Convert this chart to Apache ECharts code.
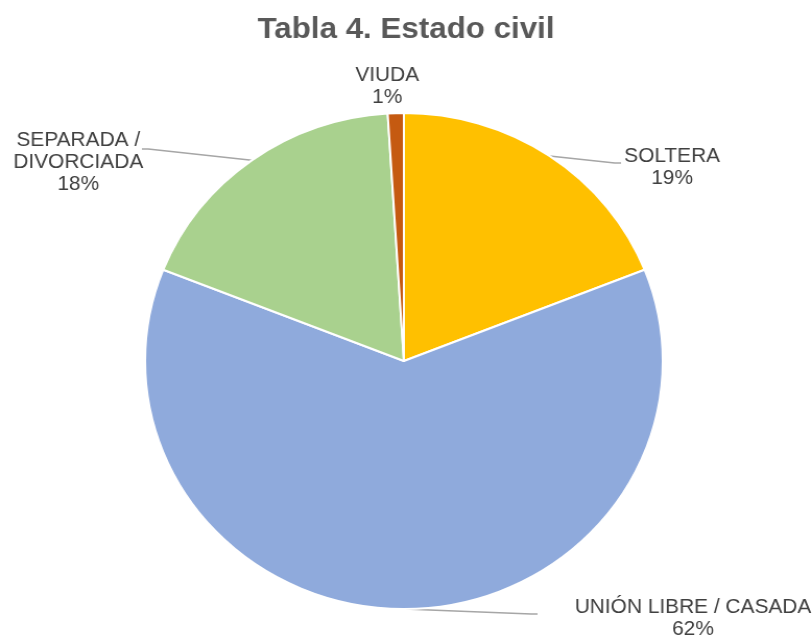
<!DOCTYPE html>
<html>
<head>
<meta charset="utf-8">
<title>Tabla 4. Estado civil</title>
<script src="https://cdn.jsdelivr.net/npm/echarts@6/dist/echarts.min.js"></script>
<style>
  html, body { margin: 0; padding: 0; background: #ffffff; overflow: hidden; }
  /* The chart is drawn a little narrower and widened back to 812px,
     which gives the slightly wide, oval look of the original figure. */
  #chart {
    width: 778px;
    height: 638px;
    transform: scaleX(1.0437);
    transform-origin: 0 0;
  }
</style>
</head>
<body>
<div id="chart"></div>
<script>
// Estado civil: categories and percentages
const categories = ['SOLTERA', 'UNIÓN LIBRE / CASADA', 'SEPARADA /\nDIVORCIADA', 'VIUDA'];
const values = [19, 62, 18, 1];
const colors = ['#FFC000', '#8FAADC', '#A9D18E', '#C55A11'];

// Where each label block sits (center) and where its leader line ends
const labelSpots = [
  { x: 644, y: 167, lineEnd: [595, 163], side: 'right' },
  { x: 664, y: 618, lineEnd: [515, 614], side: 'right' },
  { x: 75,  y: 162, lineEnd: [136, 149], side: 'left' },
  { x: 371, y: 86,  lineEnd: null,       side: 'top' }
];

const chart = echarts.init(document.getElementById('chart'), null, { renderer: 'canvas' });

chart.setOption({
  backgroundColor: '#ffffff',
  animation: false,
  title: {
    text: 'Tabla 4. Estado civil',
    left: 'center',
    top: 10,
    textStyle: {
      fontFamily: 'Liberation Sans, Arial, sans-serif',
      fontSize: 30,
      fontWeight: 'bold',
      color: '#595959'
    }
  },
  series: [{
    type: 'pie',
    center: [387, 361],
    radius: 248,
    startAngle: 90,
    clockwise: true,
    avoidLabelOverlap: false,
    data: categories.map((name, i) => ({
      name: name,
      value: values[i],
      itemStyle: { color: colors[i] }
    })),
    itemStyle: { borderColor: '#ffffff', borderWidth: 2 },
    label: {
      show: true,
      position: 'outside',
      formatter: '{b}\n{d}%',
      fontFamily: 'Liberation Sans, Arial, sans-serif',
      fontSize: 20,
      lineHeight: 22,
      color: '#404040',
      align: 'center'
    },
    labelLine: {
      show: true,
      length: 10,
      length2: 10,
      lineStyle: { color: '#A6A6A6', width: 1.5 }
    },
    labelLayout: function (params) {
      const spot = labelSpots[params.dataIndex];
      const out = { x: spot.x, y: spot.y, align: 'center', verticalAlign: 'middle' };
      const pts = params.labelLinePoints;
      if (spot.lineEnd && pts && pts.length) {
        const start = pts[0];
        const end = spot.lineEnd;
        const dir = spot.side === 'left' ? 1 : -1;
        const mid = [end[0] + dir * 6, end[1]];
        out.labelLinePoints = [start, mid, end];
      } else if (pts && pts.length) {
        out.labelLinePoints = [pts[0], pts[0], pts[0]];
      }
      return out;
    }
  }]
});
</script>
</body>
</html>
